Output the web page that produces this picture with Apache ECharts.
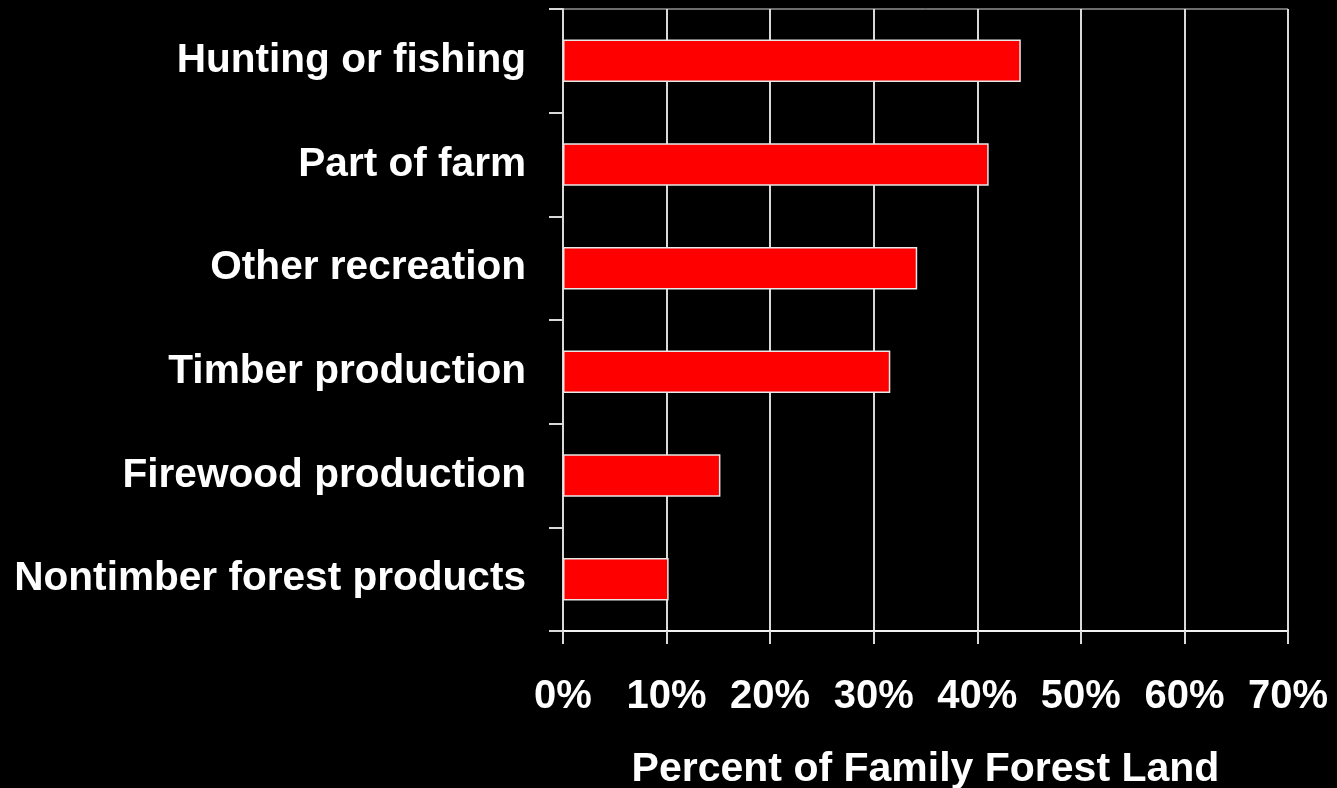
<!DOCTYPE html>
<html>
<head>
<meta charset="utf-8">
<script src="https://cdn.jsdelivr.net/npm/echarts@6/dist/echarts.min.js"></script>
<style>
html,body{margin:0;padding:0;background:#000;}
#c{width:1337px;height:788px;}
</style>
</head>
<body>
<div id="c"></div>
<script>
const categories = ["Nontimber forest products","Firewood production","Timber production","Other recreation","Part of farm","Hunting or fishing"];
const values = [10.2, 15.2, 31.6, 34.2, 41.1, 44.2];
const tickValues = [0,10,20,30,40,50,60,70];
const axisTitle = "Percent of Family Forest Land";

const chart = echarts.init(document.getElementById('c'));
const font = '"Liberation Sans", Arial, sans-serif';
chart.setOption({
  backgroundColor: '#000',
  animation: false,
  grid: {left: 563, right: 49, top: 9, bottom: 157, show: true, borderColor: '#d9d9d9', borderWidth: 1, outerBoundsMode: 'none', containLabel: false},
  xAxis: {
    type: 'value', min: 0, max: 70, interval: 10,
    name: axisTitle, nameLocation: 'middle', nameGap: 118,
    nameTextStyle: {color: '#fff', fontSize: 41, fontWeight: 'bold', fontFamily: font},
    axisLine: {show: true, lineStyle: {color: '#f2f2f2', width: 2}},
    axisTick: {show: true, length: 13, lineStyle: {color: '#d9d9d9', width: 2}},
    axisLabel: {color: '#fff', fontSize: 40, fontWeight: 'bold', fontFamily: font, margin: 46, formatter: v => v + '%'},
    splitLine: {show: true, lineStyle: {color: '#d9d9d9', width: 2}}
  },
  yAxis: {
    type: 'category', data: categories,
    axisLine: {show: true, lineStyle: {color: '#d9d9d9', width: 2}},
    axisTick: {show: true, length: 14, lineStyle: {color: '#d9d9d9', width: 2}},
    axisLabel: {color: '#fff', fontSize: 40.6, fontWeight: 'bold', fontFamily: font, margin: 37, padding: [5, 0, 0, 0]},
    splitLine: {show: false}
  },
  series: [{
    type: 'bar', data: values, barCategoryGap: '59%',
    itemStyle: {color: '#ff0000', borderColor: '#e8e8e8', borderWidth: 1.5}
  }]
});
</script>
</body>
</html>
